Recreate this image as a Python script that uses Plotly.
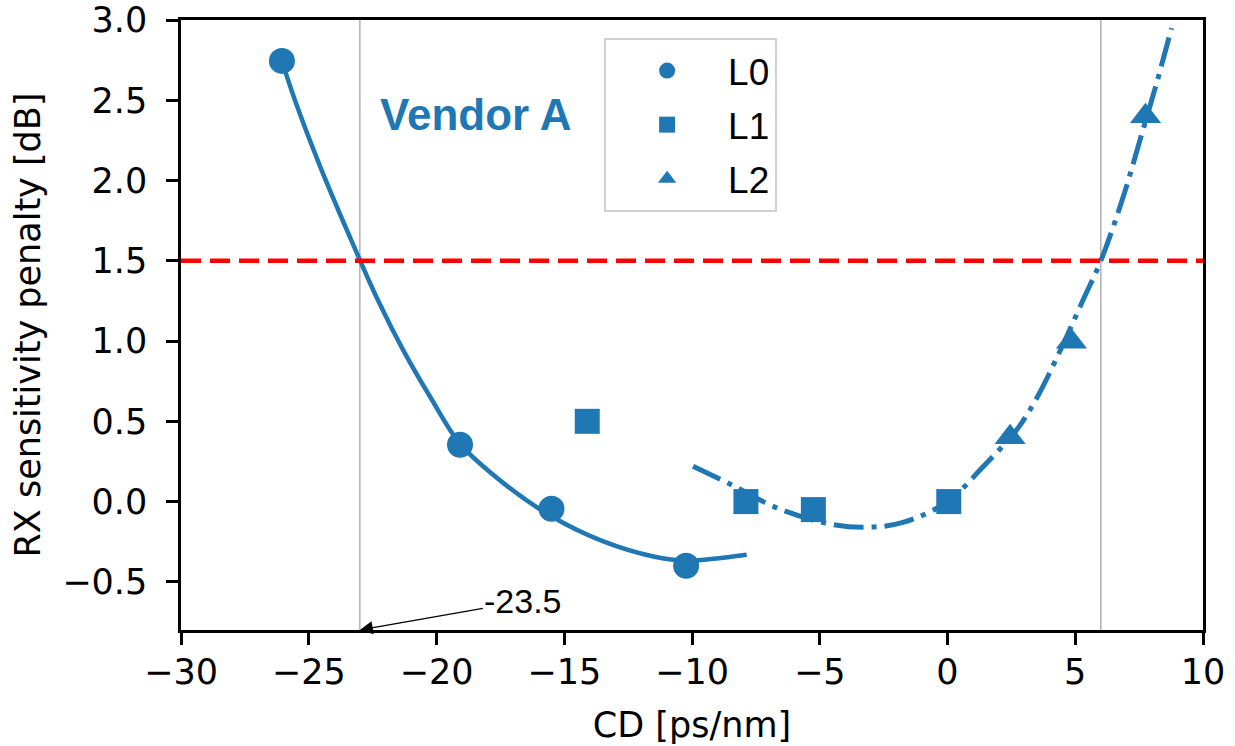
import plotly.graph_objects as go

# ---- data ----
L0_cd = [-26.05, -19.08, -15.5, -10.23]
L0_pen = [2.745, 0.354, -0.045, -0.40]

L1_cd = [-14.1, -7.89, -5.25, 0.05]
L1_pen = [0.50, 0.0, -0.05, 0.0]

L2_cd = [2.45, 4.85, 7.75]
L2_pen = [0.40, 0.995, 2.40]

fit_L0_cd = [-26.05, -25.54, -24.56, -23.45, -22.3, -21.31, -20.25, -19.08,
             -17.38, -15.49, -13.47, -11.51, -10.21, -7.86]
fit_L0_pen = [2.745, 2.50, 2.09, 1.67, 1.257, 0.945, 0.653, 0.36,
              0.115, -0.093, -0.248, -0.342, -0.367, -0.331]

fit_L12_cd = [-9.96, -8.4, -6.67, -4.6, -3.15, -1.74, 0.0, 1.40, 2.71, 3.49,
              4.27, 5.31, 6.0, 6.88, 7.53, 8.19, 8.77]
fit_L12_pen = [0.22, 0.10, -0.04, -0.14, -0.16, -0.13, 0.0, 0.219, 0.447, 0.644,
               0.893, 1.257, 1.50, 1.90, 2.25, 2.61, 2.95]

limit_cd = [-23, 6]
threshold_pen = 1.5
arrow_label = "-23.5"
vendor_label = "Vendor A"

x_ticks = [-30, -25, -20, -15, -10, -5, 0, 5, 10]
y_ticks = [-0.5, 0.0, 0.5, 1.0, 1.5, 2.0, 2.5, 3.0]

BLUE = "#1f77b4"
TICK_FONT = dict(family="DejaVu Sans", size=35, color="black")
TITLE_FONT = dict(family="DejaVu Sans", size=35, color="black")

fig = go.Figure()

# fitted curves
fig.add_trace(go.Scatter(x=fit_L0_cd, y=fit_L0_pen, mode="lines",
                         line=dict(color=BLUE, width=4.5, shape="spline", smoothing=1.0),
                         showlegend=False, hoverinfo="skip"))
fig.add_trace(go.Scatter(x=fit_L12_cd, y=fit_L12_pen, mode="lines",
                         line=dict(color=BLUE, width=5, shape="spline", smoothing=1.0,
                                   dash="30px,8px,5px,8px"),
                         showlegend=False, hoverinfo="skip"))

# measured points
fig.add_trace(go.Scatter(x=L0_cd, y=L0_pen, mode="markers", name="L0", legendgroup="a",
                         marker=dict(symbol="circle", size=26, color=BLUE)))
fig.add_trace(go.Scatter(x=L1_cd, y=L1_pen, mode="markers", name="L1", legendgroup="b",
                         marker=dict(symbol="square", size=25, color=BLUE)))
fig.add_trace(go.Scatter(x=L2_cd, y=L2_pen, mode="markers", name="L2", legendgroup="c",
                         marker=dict(symbol="triangle-up", size=27, color=BLUE)))

# vertical limit lines
for xv in limit_cd:
    fig.add_shape(type="line", xref="x", yref="paper", x0=xv, x1=xv, y0=0, y1=1,
                  line=dict(color="#b0b0b0", width=1.5), layer="below")

# threshold line
fig.add_shape(type="line", xref="paper", yref="y", x0=0, x1=1,
              y0=threshold_pen, y1=threshold_pen,
              line=dict(color="#ff0000", width=4.5, dash="20px,9px"))

# arrow annotation
fig.add_annotation(x=limit_cd[0], y=-0.8, xref="x", yref="y",
                   ax=-16.6, ay=-0.62, axref="x", ayref="y",
                   text=arrow_label, showarrow=True, arrowhead=2, arrowsize=2.0,
                   arrowwidth=1.3, arrowcolor="black",
                   font=dict(family="Liberation Sans", size=34, color="black"))

# vendor label
fig.add_annotation(x=-18.45, y=2.41, xref="x", yref="y", text="<b>" + vendor_label + "</b>",
                   showarrow=False,
                   font=dict(family="Liberation Sans", size=44, color=BLUE))

fig.update_layout(
    width=1235, height=746,
    margin=dict(l=181, r=32, t=20, b=116, autoexpand=False),
    paper_bgcolor="white", plot_bgcolor="white",
    legend=dict(x=0.414, y=0.9705, xanchor="left", yanchor="top",
                bgcolor="rgba(255,255,255,0.85)", bordercolor="#d0d0d0", borderwidth=2,
                font=dict(family="Liberation Sans", size=37, color="black"),
                itemwidth=112, tracegroupgap=3, itemsizing="trace"),
    showlegend=True,
)

fig.update_xaxes(range=[-30, 10], tickvals=x_ticks, ticks="outside", ticklen=12, tickwidth=2.5,
                 tickcolor="black", showline=True, linewidth=2.5, linecolor="black", mirror=True,
                 showgrid=False, zeroline=False, tickfont=TICK_FONT, automargin=False,
                 title=dict(text="CD [ps/nm]", font=TITLE_FONT, standoff=22))
try:
    fig.update_xaxes(ticklabelstandoff=-3)
except ValueError:
    fig.update_xaxes(ticklabelstandoff=0)

fig.update_yaxes(range=[-0.8, 3.0], tickvals=y_ticks, tickformat=".1f", ticks="outside",
                 ticklen=12, tickwidth=2.5, tickcolor="black", showline=True, linewidth=2.5,
                 linecolor="black", mirror=True, showgrid=False, zeroline=False, tickfont=TICK_FONT,
                 automargin=False, ticklabelstandoff=12,
                 title=dict(text="RX sensitivity penalty [dB]", font=TITLE_FONT, standoff=12))

fig.write_html("out.html", config={"displayModeBar": False},
               post_script="document.body.style.margin='0';document.body.style.padding='0';")
